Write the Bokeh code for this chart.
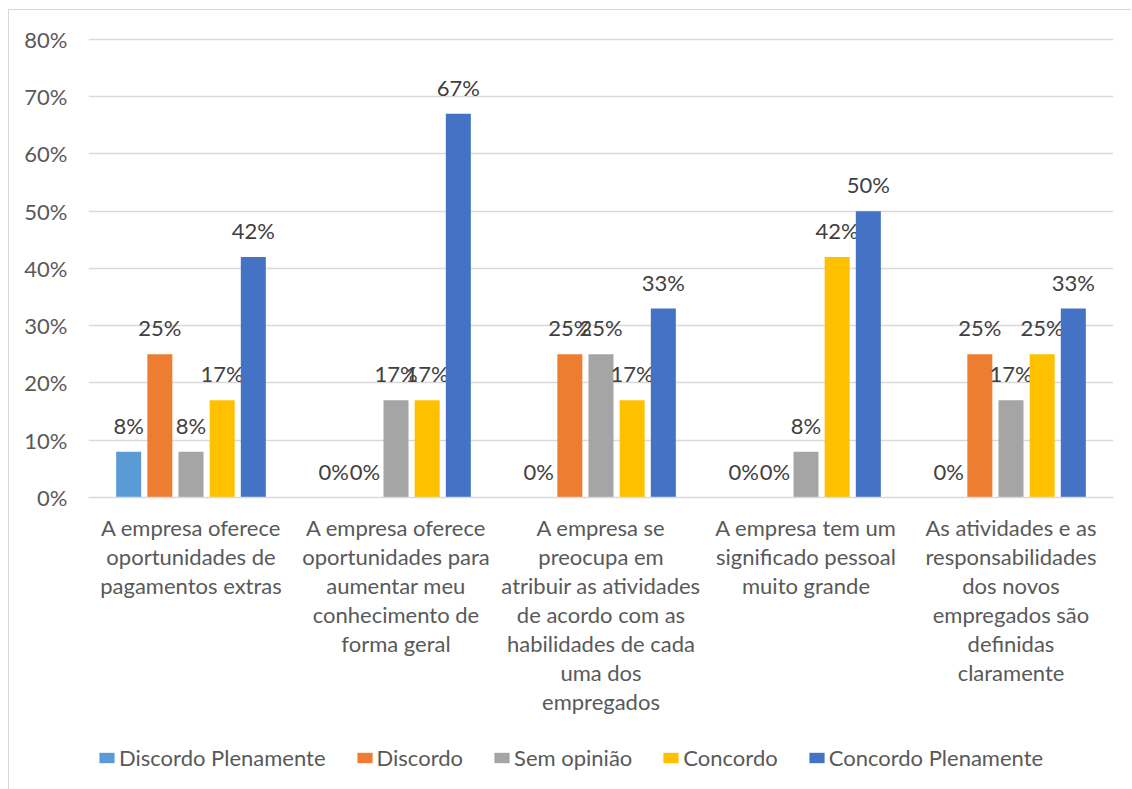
from bokeh.plotting import figure
from bokeh.layouts import column
from bokeh.models import ColumnDataSource, FactorRange, Legend, LegendItem, PrintfTickFormatter, Range1d
from bokeh.transform import dodge
from bokeh.core.properties import value
from bokeh.embed import file_html
from bokeh.resources import INLINE

categories = [
    "A empresa oferece\noportunidades de\npagamentos extras",
    "A empresa oferece\noportunidades para\naumentar meu\nconhecimento de\nforma geral",
    "A empresa se\npreocupa em\natribuir as atividades\nde acordo com as\nhabilidades de cada\numa dos\nempregados",
    "A empresa tem um\nsignificado pessoal\nmuito grande",
    "As atividades e as\nresponsabilidades\ndos novos\nempregados são\ndefinidas\nclaramente",
]
series_names = ["Discordo Plenamente", "Discordo", "Sem opinião", "Concordo", "Concordo Plenamente"]
discordo_plenamente = [8, 0, 0, 0, 0]
discordo = [25, 0, 25, 0, 25]
sem_opiniao = [8, 17, 25, 8, 17]
concordo = [17, 17, 17, 42, 25]
concordo_plenamente = [42, 67, 33, 50, 33]
y_ticks = [0, 10, 20, 30, 40, 50, 60, 70, 80]

colors = ["#5B9BD5", "#ED7D31", "#A5A5A5", "#FFC000", "#4472C4"]
series_values = [discordo_plenamente, discordo, sem_opiniao, concordo, concordo_plenamente]
keys = ["s0", "s1", "s2", "s3", "s4"]

data = {"cat": categories}
for k, vals in zip(keys, series_values):
    data[k] = vals
    data[k + "_lbl"] = [f"{v}%" for v in vals]
src = ColumnDataSource(data)

FONT = "Lato"
FS = "22px"
x_range = FactorRange(factors=categories, range_padding=0)
p = figure(x_range=x_range, y_range=Range1d(0, 80.5), width=1123, height=726,
           output_backend="svg", toolbar_location=None,
           min_border_left=79, min_border_right=19, min_border_top=26, min_border_bottom=239)
p.margin = (9, 0, 0, 8)
p.styles = {"border-left": "1px solid #d9d9d9", "border-top": "1px solid #d9d9d9"}
p.outline_line_color = None
p.background_fill_color = "white"
p.border_fill_color = "white"

offsets = [-0.304, -0.152, 0.0, 0.152, 0.304]
bw = 0.122
for k, off, col in zip(keys, offsets, colors):
    p.vbar(x=dodge("cat", off, range=x_range), top=k, width=bw, source=src,
           fill_color=col, line_color=None)
    p.text(x=dodge("cat", off, range=x_range), y=k, text=k + "_lbl", source=src,
           text_align="center", text_baseline="bottom", y_offset=-13,
           text_font=value(FONT), text_font_size=FS, text_color="#404040")

p.xgrid.grid_line_color = None
p.ygrid.grid_line_color = "#d9d9d9"
p.ygrid.grid_line_width = 1.3
p.yaxis.ticker = y_ticks
p.yaxis.formatter = PrintfTickFormatter(format="%d%%")
p.yaxis.axis_line_color = None
p.yaxis.major_tick_line_color = None
p.yaxis.minor_tick_line_color = None
p.yaxis.major_label_text_font = FONT
p.yaxis.major_label_text_font_size = FS
p.yaxis.major_label_text_color = "#595959"
p.yaxis.major_label_standoff = 15

p.xaxis.axis_line_color = "#d9d9d9"
p.xaxis.axis_line_width = 1.3
p.xaxis.major_tick_line_color = None
p.xaxis.minor_tick_line_color = None
p.xaxis.major_label_text_font = FONT
p.xaxis.major_label_text_font_size = FS
p.xaxis.major_label_text_color = "#595959"
p.xaxis.major_label_text_line_height = 1.08
p.xaxis.major_label_text_align = "center"
p.xaxis.major_label_standoff = 10

# legend strip below the chart (same series, drawn outside its visible y range)
p2 = figure(width=1123, height=54, x_range=x_range, y_range=Range1d(1000, 1001),
            output_backend="svg", toolbar_location=None,
            min_border_left=79, min_border_right=19, min_border_top=0, min_border_bottom=0)
p2.margin = (0, 0, 0, 8)
p2.styles = {"border-left": "1px solid #d9d9d9"}
p2.outline_line_color = None
p2.axis.visible = False
p2.grid.grid_line_color = None
items = []
for k, off, col, name in zip(keys, offsets, colors, series_names):
    r = p2.vbar(x=dodge("cat", off, range=x_range), top=k, width=bw, source=src,
                fill_color=col, line_color=None)
    items.append(LegendItem(label=name, renderers=[r]))
legend = Legend(items=items, orientation="horizontal", location=(9, 18),
                glyph_width=19, glyph_height=13, label_standoff=3, spacing=29,
                label_text_font=FONT, label_text_font_size=FS,
                label_text_color="#595959", border_line_color=None,
                background_fill_alpha=0, margin=0, padding=0)
p2.add_layout(legend, "center")

open("out.html", "w").write(file_html(column(p, p2), INLINE))
